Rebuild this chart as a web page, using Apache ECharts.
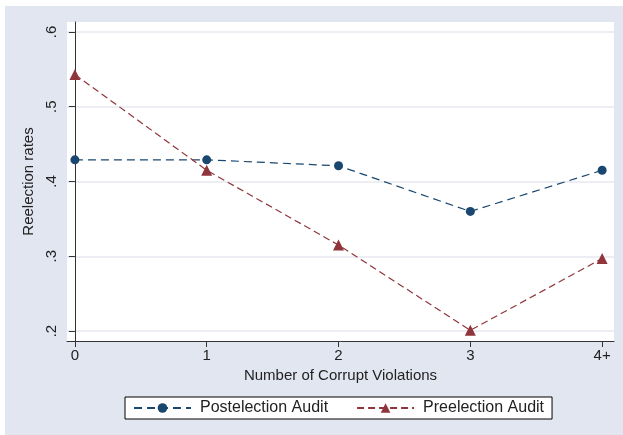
<!DOCTYPE html>
<html>
<head>
<meta charset="utf-8">
<script src="https://cdn.jsdelivr.net/npm/echarts@6/dist/echarts.min.js"></script>
<style>
html, body { margin: 0; padding: 0; background: #fff; }
#chart { width: 623px; height: 435px; }
</style>
</head>
<body>
<div id="chart"></div>
<script>
// 데이터
var violations = [0, 1, 2, 3, 4];
var xTickLabels = ['0', '1', '2', '3', '4+'];
var yTicks = [0.2, 0.3, 0.4, 0.5, 0.6];
var postelection = [0.429, 0.429, 0.421, 0.360, 0.415];
var preelection = [0.543, 0.415, 0.315, 0.201, 0.297];

var navy = '#1a476f';
var maroon = '#90353b';
var font = 'Liberation Sans, Arial, sans-serif';

function pairs(ys) {
	return violations.map(function(x, i) { return [x, ys[i]]; });
}

var chart = echarts.init(document.getElementById('chart'));

var option = {
	backgroundColor: '#ffffff',
	animation: false,
	graphic: [
		{ type: 'rect', z: -10, shape: { x: 5, y: 6, width: 618, height: 429 }, style: { fill: '#e2e6f0' } }
	],
	grid: { left: 67, top: 22, width: 547, height: 319, backgroundColor: '#ffffff', show: true, borderWidth: 0 },
	xAxis: {
		type: 'value',
		min: -0.06,
		max: 4.09,
		name: 'Number of Corrupt Violations',
		nameLocation: 'middle',
		nameGap: 27,
		nameTextStyle: { color: '#222', fontSize: 15, fontFamily: font },
		axisLine: { lineStyle: { color: '#333', width: 1 } },
		axisTick: { length: 6, lineStyle: { color: '#333' }, customValues: violations },
		axisLabel: {
			color: '#222', fontSize: 15, fontFamily: font, margin: 7,
			customValues: violations,
			formatter: function(v) { return xTickLabels[violations.indexOf(v)]; }
		},
		splitLine: { show: false }
	},
	yAxis: {
		type: 'value',
		min: 0.1867,
		max: 0.6133,
		name: 'Reelection rates',
		nameLocation: 'middle',
		nameGap: 27,
		nameRotate: 90,
		nameTextStyle: { color: '#222', fontSize: 15, fontFamily: font },
		axisLine: { show: true, lineStyle: { color: '#333', width: 1 } },
		axisTick: { show: true, length: 6, lineStyle: { color: '#333' }, customValues: yTicks },
		axisLabel: {
			color: '#222', fontSize: 15, fontFamily: font, margin: 8, rotate: 90,
			customValues: yTicks,
			formatter: function(v) { return v.toFixed(1).replace(/^0/, ''); }
		},
		splitLine: { show: true, lineStyle: { color: '#e6e9f0', width: 1.5 }, customValues: yTicks }
	},
	legend: {
		top: 397,
		left: 125,
		padding: [3, 8, 3, 8],
		itemGap: 28,
		itemWidth: 57,
		itemHeight: 12,
		borderColor: '#000',
		borderWidth: 1,
		backgroundColor: '#fff',
		borderRadius: 0,
		textStyle: { color: '#222', fontSize: 16, fontFamily: font, padding: [0, 0, 0, 4] },
		data: ['Postelection Audit', 'Preelection Audit']
	},
	series: [
		{
			name: 'Postelection Audit',
			type: 'line',
			data: pairs(postelection),
			symbol: 'circle',
			symbolSize: 9,
			itemStyle: { color: navy },
			lineStyle: { color: navy, width: 1.2, type: [8, 5] }
		},
		{
			name: 'Preelection Audit',
			type: 'line',
			data: pairs(preelection),
			symbol: 'triangle',
			symbolSize: 11,
			itemStyle: { color: maroon },
			lineStyle: { color: maroon, width: 1.2, type: [7, 4] }
		}
	]
};

chart.setOption(option);
</script>
</body>
</html>
